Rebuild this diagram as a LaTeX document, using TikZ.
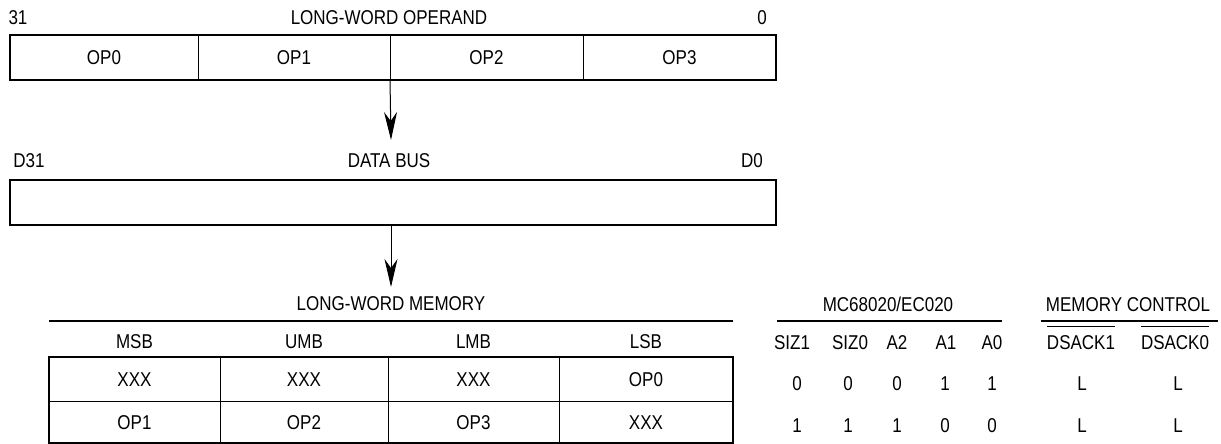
\documentclass[tikz,border=0pt]{standalone}
\usepackage{fontspec}
\setmainfont[FakeStretch=0.85]{Liberation Sans}
\usetikzlibrary{arrows.meta}
\begin{document}
\begin{tikzpicture}[x=1pt,y=-1pt,
  every node/.style={font=\fontsize{20}{24}\selectfont, inner sep=0pt, outer sep=0pt, text height=14.3pt, text depth=0pt},
  cell/.style={draw, line width=0.9pt, anchor=north west},
  outer/.style={draw, line width=2pt},
  rule/.style={line width=1.3pt},
  arr/.style={line width=1pt, -{Stealth[length=28pt,width=13pt,inset=9pt]}}]
\useasboundingbox (0,0) rectangle (1221,444);

% long-word operand
\node (t31) at (18,17) {31};
\node (tlwo) at (389,17) {LONG-WORD OPERAND};
\node (t0) at (762,17) {0};
\node[cell, minimum width=188pt, minimum height=45pt] (op0) at (10,35) {OP0};
\node[cell, minimum width=192pt, minimum height=45pt] (op1) at (198,35) {OP1};
\node[cell, minimum width=193pt, minimum height=45pt] (op2) at (390,35) {OP2};
\node[cell, minimum width=193pt, minimum height=45pt] (op3) at (583,35) {OP3};
\draw[outer] (op0.north west) rectangle (op3.south east);

% data bus
\node (d31) at (29,160) {D31};
\node (tdb) at (389,160) {DATA BUS};
\node (d0) at (752,160) {D0};
\node[draw, line width=2pt, anchor=north west, minimum width=766pt, minimum height=45pt] (bus) at (10,180) {};

\coordinate (tip1) at (391,140);
\coordinate (tip2) at (391,287);
\draw[arr] (op1.south east) -- (tip1);
\draw[arr] (bus.south -| tip2) -- (tip2);

% long-word memory
\node (tlwm) at (391,303) {LONG-WORD MEMORY};
\coordinate (mL) at (49,321);
\coordinate (mR) at (733,321);
\draw[rule] (mL) -- (mR);
\node (hmsb) at (134.5,341) {MSB};
\node (humb) at (304,341) {UMB};
\node (hlmb) at (473.5,341) {LMB};
\node (hlsb) at (646,341) {LSB};

\node[cell, minimum width=171pt, minimum height=44pt] (m11) at (49,357) {XXX};
\node[cell, minimum width=168pt, minimum height=44pt] (m12) at (220,357) {XXX};
\node[cell, minimum width=171pt, minimum height=44pt] (m13) at (388,357) {XXX};
\node[cell, minimum width=174pt, minimum height=44pt] (m14) at (559,357) {OP0};
\node[cell, minimum width=171pt, minimum height=42pt] (m21) at (49,401) {OP1};
\node[cell, minimum width=168pt, minimum height=42pt] (m22) at (220,401) {OP2};
\node[cell, minimum width=171pt, minimum height=42pt] (m23) at (388,401) {OP3};
\node[cell, minimum width=174pt, minimum height=42pt] (m24) at (559,401) {XXX};
\draw[outer] (m11.north west) rectangle (m24.south east);

% MC68020/EC020
\node (tmc) at (888,304) {MC68020/EC020};
\coordinate (cL) at (777,321);
\coordinate (cR) at (1002,321);
\draw[rule] (cL) -- (cR);
\node (tmcl) at (1128,304) {MEMORY CONTROL};
\coordinate (kL) at (1041,321);
\coordinate (kR) at (1218,321);
\draw[rule] (kL) -- (kR);

\node (hs1) at (792,342) {SIZ1};
\node (hs0) at (850,342) {SIZ0};
\node (ha2) at (897,342) {A2};
\node (ha1) at (946,342) {A1};
\node (ha0) at (992,342) {A0};
\node (hd1) at (1081,342) {DSACK1};
\node (hd0) at (1175,342) {DSACK0};
\draw[line width=0.9pt] ([yshift=8pt]hd1.north west) -- ([yshift=8pt]hd1.north east);
\draw[line width=0.9pt] ([yshift=8pt]hd0.north west) -- ([yshift=8pt]hd0.north east);

\node (r1a) at (797,383) {0};
\node (r1b) at (848,383) {0};
\node (r1c) at (897,383) {0};
\node (r1d) at (945,383) {1};
\node (r1e) at (992,383) {1};
\node (r1f) at (1082,383) {L};
\node (r1g) at (1178,383) {L};

\node (r2a) at (797,425) {1};
\node (r2b) at (848,425) {1};
\node (r2c) at (897,425) {1};
\node (r2d) at (945,425) {0};
\node (r2e) at (992,425) {0};
\node (r2f) at (1082,425) {L};
\node (r2g) at (1178,425) {L};
\end{tikzpicture}
\end{document}
